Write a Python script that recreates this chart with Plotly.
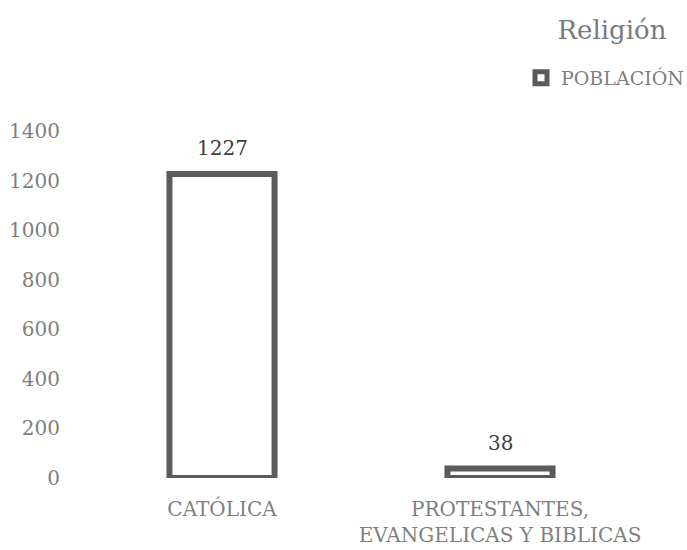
import plotly.graph_objects as go

categories = ["CATÓLICA", "PROTESTANTES,<br>EVANGELICAS Y BIBLICAS"]
values = [1227, 38]
series_name = "POBLACIÓN"
title_text = "Religión"
y_ticks = [0, 200, 400, 600, 800, 1000, 1200, 1400]

FONT = "DejaVu Serif"
W, H = 687, 550

fig = go.Figure()
fig.add_trace(go.Bar(
    x=categories,
    y=values,
    name=series_name,
    width=0.378,
    marker=dict(color="white", line=dict(color="#5b5b5b", width=6)),
    showlegend=True,
))

for c, v in zip(categories, values):
    fig.add_annotation(x=c, y=v, text=str(v), showarrow=False, yanchor="bottom",
                       yshift=12, font=dict(family=FONT, size=20, color="#404040"))

fig.update_layout(
    width=W, height=H,
    paper_bgcolor="white", plot_bgcolor="white",
    margin=dict(l=83, r=48, t=131, b=72, autoexpand=False),
    font=dict(family=FONT, size=19, color="#7f7f7f"),
    title=dict(text=title_text, x=612 / W, xanchor="center", y=1 - 30 / H, yanchor="middle",
               xref="container", yref="container",
               font=dict(family=FONT, size=26, color="#7a7a7a")),
    legend=dict(x=521 / W, xanchor="left", y=1 - 78 / H, yanchor="middle",
                xref="container", yref="container",
                font=dict(family=FONT, size=19, color="#7f7f7f"),
                itemwidth=30, bgcolor="rgba(0,0,0,0)"),
    showlegend=True,
)
fig.update_xaxes(showline=False, showgrid=False, zeroline=False, ticks="",
                 automargin=False, ticklabelstandoff=17,
                 tickfont=dict(family=FONT, size=20, color="#7f7f7f"))
fig.update_yaxes(range=[0, 1400], tickvals=y_ticks, showgrid=False, zeroline=False,
                 showline=False, ticks="", ticklabelstandoff=22, automargin=False,
                 tickfont=dict(family=FONT, size=20, color="#7f7f7f"))

fig.write_html("out.html", config={"displayModeBar": False},
               post_script="document.body.style.margin='0';")
